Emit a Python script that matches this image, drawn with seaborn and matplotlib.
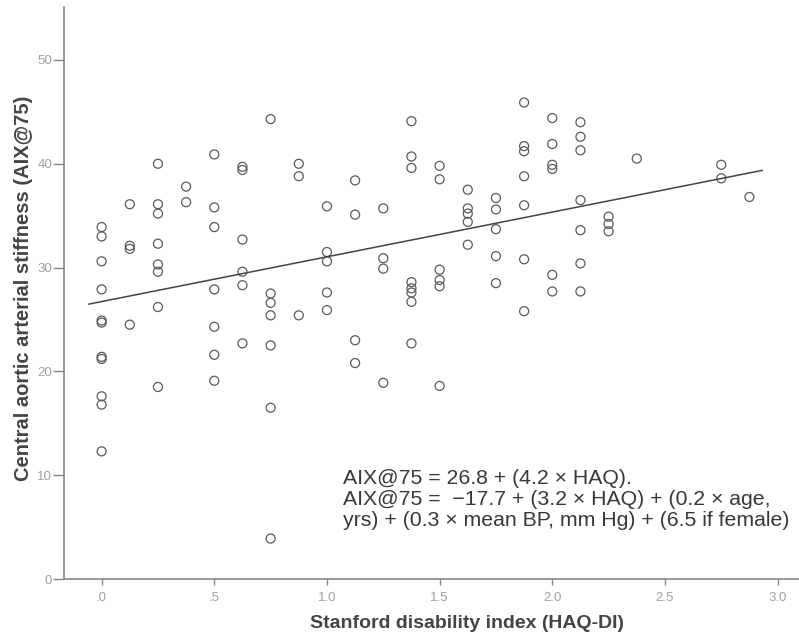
import matplotlib
matplotlib.use("Agg")
import matplotlib.pyplot as plt
import numpy as np
import pandas as pd
import seaborn as sns

# values, one HAQ level at a time
HAQ = ([0.0] * 11 + [0.125] * 4 + [0.25] * 8 + [0.375] * 2 + [0.5] * 7
       + [0.625] * 6 + [0.75] * 7 + [0.875] * 3 + [1.0] * 5 + [1.125] * 4
       + [1.25] * 4 + [1.375] * 8 + [1.5] * 6 + [1.625] * 5 + [1.75] * 5
       + [1.875] * 7 + [2.0] * 6 + [2.125] * 7 + [2.25] * 3 + [2.375] * 1
       + [2.75] * 2 + [2.875] * 1)
AIX = [33.9, 33.0, 30.6, 27.9, 24.9, 24.7, 21.4, 21.2, 17.6, 16.8, 12.3,
       36.1, 32.1, 31.8, 24.5,
       40.0, 36.1, 35.2, 32.3, 30.3, 29.6, 26.2, 18.5,
       37.8, 36.3,
       40.9, 35.8, 33.9, 27.9, 24.3, 21.6, 19.1,
       39.7, 39.4, 32.7, 29.6, 28.3, 22.7,
       44.3, 27.5, 26.6, 25.4, 22.5, 16.5, 3.9,
       40.0, 38.8, 25.4,
       35.9, 31.5, 30.6, 27.6, 25.9,
       38.4, 35.1, 23.0, 20.8,
       35.7, 30.9, 29.9, 18.9,
       44.1, 40.7, 39.6, 28.6, 28.0, 27.6, 26.7, 22.7,
       39.8, 38.5, 29.8, 28.8, 28.2, 18.6,
       37.5, 35.7, 35.2, 34.4, 32.2,
       36.7, 35.6, 33.7, 31.1, 28.5,
       45.9, 41.7, 41.2, 38.8, 36.0, 30.8, 25.8,
       44.4, 41.9, 39.9, 39.5, 29.3, 27.7,
       44.0, 42.6, 41.3, 36.5, 33.6, 30.4, 27.7,
       34.9, 34.2, 33.5,
       40.5,
       39.9, 38.6,
       36.8]
X_TICKS = [0.0, 0.5, 1.0, 1.5, 2.0, 2.5, 3.0]
X_TICK_LABELS = ['.0', '.5', '1.0', '1.5', '2.0', '2.5', '3.0']
Y_TICKS = [0, 10, 20, 30, 40, 50]
EQUATION = ('AIX@75 = 26.8 + (4.2 \u00d7 HAQ).\n'
            'AIX@75 =  \u221217.7 + (3.2 \u00d7 HAQ) + (0.2 \u00d7 age,\n'
            'yrs) + (0.3 \u00d7 mean BP, mm Hg) + (6.5 if female)')

sns.set_style('ticks')
plt.rcParams['font.family'] = ['Liberation Sans', 'DejaVu Sans']

df = pd.DataFrame({'haq': HAQ, 'aix': AIX})

fig = plt.figure(figsize=(7.99, 6.42), dpi=100)
ax = fig.add_axes([0.0801, 0.0981, 0.9199, 0.891])

sns.scatterplot(data=df, x='haq', y='aix', ax=ax, marker='o', s=42,
                facecolors='none', edgecolor='#5a5a5a', linewidth=0.9)

# least squares fit line, a little past the data range like SPSS does
slope, inter = np.polyfit(df['haq'], df['aix'], 1)
span = df['haq'].max() - df['haq'].min()
fx = np.array([df['haq'].min() - 0.02 * span, df['haq'].max() + 0.02 * span])
ax.plot(fx, inter + slope * fx, color='#444444', linewidth=1.1)

ax.set_xlim(-0.167, 3.095)
ax.set_ylim(0, 55.1)
ax.set_xticks(X_TICKS)
ax.set_xticklabels(X_TICK_LABELS)
ax.set_yticks(Y_TICKS)
ax.tick_params(axis='y', direction='out', length=8, width=1, pad=0.5,
               color='#888888', labelcolor='#a0a0a0', labelsize=9.5)
ax.tick_params(axis='x', direction='out', length=4.5, width=1, pad=5,
               color='#888888', labelcolor='#a0a0a0', labelsize=9.5)
sns.despine(ax=ax)
for side in ['left', 'bottom']:
    ax.spines[side].set_color('#888888')
    ax.spines[side].set_linewidth(1.2)

ax.set_xlabel('Stanford disability index (HAQ-DI)', fontsize=14,
              fontweight='bold', color='#444444')
ax.set_ylabel('Central aortic arterial stiffness (AIX@75)', fontsize=14.5,
              fontweight='bold', color='#444444')
ax.xaxis.set_label_coords(0.548, -0.063)
ax.yaxis.set_label_coords(-0.042, 0.509)

ax.text(343 / 799, 1 - 469 / 642, EQUATION, transform=fig.transFigure,
        fontsize=15.3, color='#383838', va='top', linespacing=1.12)

fig.savefig('out.png', dpi=100)
